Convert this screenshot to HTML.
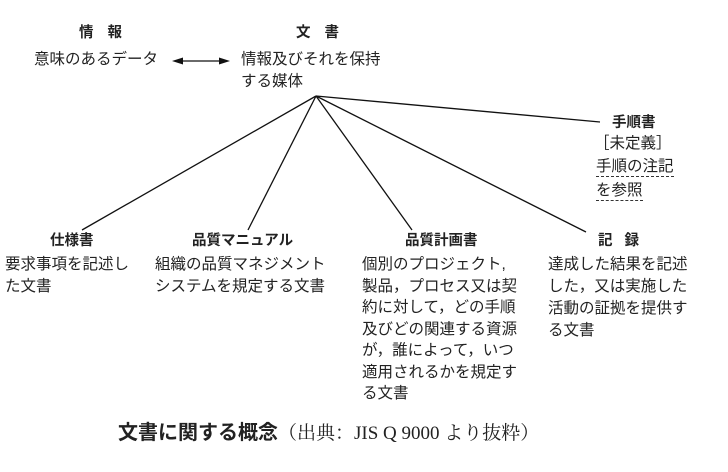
<!DOCTYPE html>
<html><head><meta charset="utf-8"><style>
html,body{margin:0;padding:0;background:#fff;}
body{width:728px;height:472px;position:relative;overflow:hidden;font-family:"Liberation Sans","Noto Sans CJK JP",sans-serif;color:#222;}
.t{position:absolute;font-size:15.5px;line-height:22px;white-space:nowrap;}
.b{font-weight:bold;font-size:14.5px;}
.u{border-bottom:1.5px dashed #333;line-height:19px;display:inline-block;margin-bottom:3px;}
</style></head><body>
<svg width="728" height="472" style="position:absolute;left:0;top:0">
<g stroke="#111" stroke-width="1.3" fill="none">
<line x1="316" y1="96" x2="600" y2="122"/>
<line x1="316" y1="96" x2="82" y2="230"/>
<line x1="316" y1="96" x2="248" y2="230"/>
<line x1="316" y1="96" x2="412" y2="230"/>
<line x1="316" y1="96" x2="586" y2="232"/>
<line x1="180" y1="61" x2="222" y2="61"/>
</g>
<polygon points="172,61 183,57.5 183,64.5" fill="#111"/>
<polygon points="230,61 219,57.5 219,64.5" fill="#111"/>
</svg>
<div class="t b" style="left:79px;top:22px;letter-spacing:14px">情報</div>
<div class="t" style="left:34px;top:49px">意味のあるデータ</div>
<div class="t b" style="left:296px;top:22px;letter-spacing:14px">文書</div>
<div class="t" style="left:241px;top:49px">情報及びそれを保持<br>する媒体</div>
<div class="t b" style="left:612px;top:112px">手順書</div>
<div class="t" style="left:594px;top:133px">［未定義］</div>
<div class="t" style="left:596px;top:156px"><span class="u">手順の注記</span><br><span class="u">を参照</span></div>
<div class="t b" style="left:50px;top:230px">仕様書</div>
<div class="t" style="left:5px;top:254px">要求事項を記述し<br>た文書</div>
<div class="t b" style="left:192px;top:230px">品質マニュアル</div>
<div class="t" style="left:155px;top:254px">組織の品質マネジメント<br>システムを規定する文書</div>
<div class="t b" style="left:405px;top:230px">品質計画書</div>
<div class="t" style="left:362px;top:254px;line-height:21.5px">個別のプロジェクト,<br>製品，プロセス又は契<br>約に対して，どの手順<br>及びどの関連する資源<br>が，誰によって，いつ<br>適用されるかを規定す<br>る文書</div>
<div class="t b" style="left:598px;top:230px;letter-spacing:12px">記録</div>
<div class="t" style="left:548px;top:254px">達成した結果を記述<br>した，又は実施した<br>活動の証拠を提供す<br>る文書</div>
<div class="t" style="left:118px;top:420px;font-size:20px;line-height:26px"><b>文書に関する概念</b><span style="font-family:'Liberation Serif','Noto Serif CJK SC',serif;font-size:19px">（出典：JIS Q 9000 より抜粋）</span></div>
</body></html>
